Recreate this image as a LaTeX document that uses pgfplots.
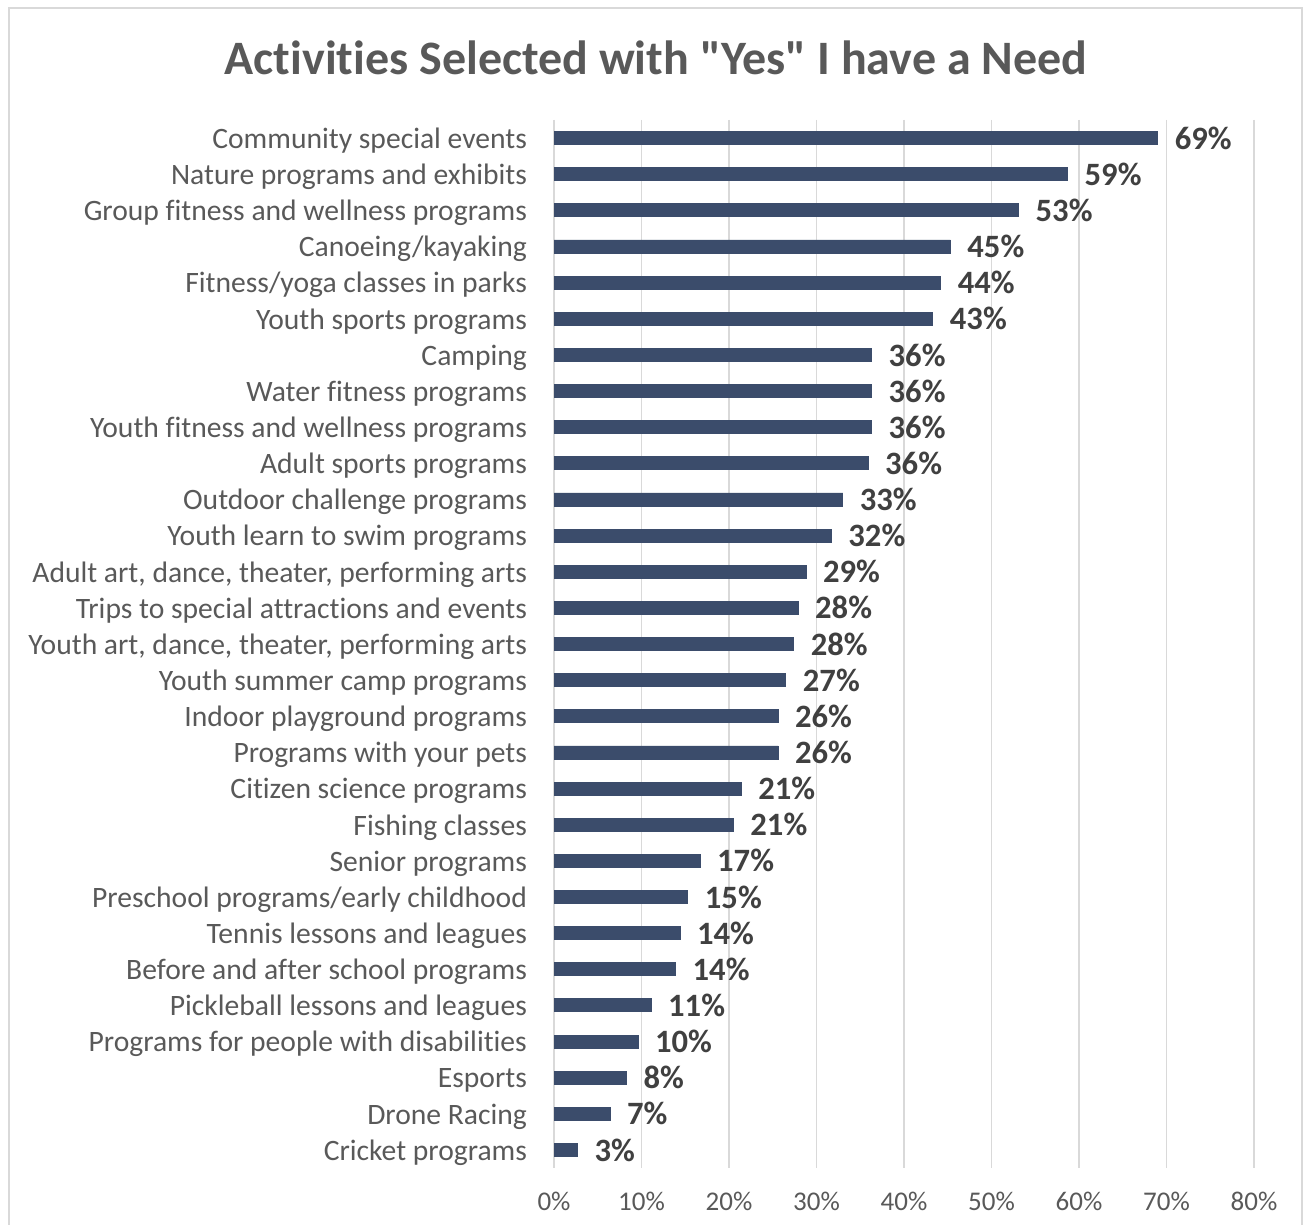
\documentclass[border=0pt]{standalone}
\usepackage{pgfplots}
\pgfplotsset{compat=1.18}
\usepackage{pgfplotstable}
\usepackage{fontspec}
\setmainfont{Carlito}[Ligatures={NoCommon}]
\newfontfamily\titlefont{Carlito}[Ligatures={NoCommon}]
\definecolor{barc}{HTML}{3B4C6B}
\definecolor{txt}{HTML}{595959}
\definecolor{labc}{HTML}{404040}
\definecolor{gridc}{HTML}{D9D9D9}
\definecolor{framec}{HTML}{D9D9D9}
\pgfplotstableread{
i v lab
0 69.0 69
1 58.7 59
2 53.1 53
3 45.3 45
4 44.2 44
5 43.3 43
6 36.3 36
7 36.3 36
8 36.3 36
9 35.9 36
10 33.0 33
11 31.7 32
12 28.8 29
13 27.9 28
14 27.4 28
15 26.5 27
16 25.6 26
17 25.6 26
18 21.4 21
19 20.5 21
20 16.7 17
21 15.3 15
22 14.4 14
23 13.9 14
24 11.1 11
25 9.6 10
26 8.3 8
27 6.4 7
28 2.7 3
}\data
\begin{document}
\begin{tikzpicture}
\useasboundingbox (0,0) rectangle (652pt,612pt);
\draw[framec, line width=1.2pt] (4.5pt,-2pt) -- (4.5pt,608pt) -- (651pt,608pt) -- (651pt,-2pt);
\node[font=\titlefont\fontsize{24}{28}\selectfont\bfseries, text=txt] at (328pt,583pt) {Activities Selected with "Yes" I have a Need};
\begin{axis}[
  at={(277pt,28pt)}, anchor=south west,
  scale only axis, width=350pt, height=524pt,
  xbar, bar width=6.5pt,
  xmin=0, xmax=80, ymin=-0.5, ymax=28.5,
  y dir=reverse,
  axis line style={draw=none},
  xmajorgrids=true, ymajorgrids=false,
  grid style={draw=gridc, line width=0.8pt},
  xtick={0,10,...,80},
  xticklabel={\pgfmathprintnumber{\tick}\%},
  /pgf/number format/assume math mode=true,
  ytick={0,...,28},
  yticklabels={Community special events, Nature programs and exhibits, Group fitness and wellness programs, Canoeing/kayaking, Fitness/yoga classes in parks, Youth sports programs, Camping, Water fitness programs, Youth fitness and wellness programs, Adult sports programs, Outdoor challenge programs, Youth learn to swim programs, {Adult art, dance, theater, performing arts}, Trips to special attractions and events, {Youth art, dance, theater, performing arts}, Youth summer camp programs, Indoor playground programs, Programs with your pets, Citizen science programs, Fishing classes, Senior programs, Preschool programs/early childhood, Tennis lessons and leagues, Before and after school programs, Pickleball lessons and leagues, Programs for people with disabilities, Esports, Drone Racing, Cricket programs},
  major tick length=0pt,
  yticklabel style={font=\fontsize{14.8}{17}\selectfont, text=txt, xshift=-10pt, yshift=-1.3pt},
  xticklabel style={font=\fontsize{13.5}{16}\selectfont, text=txt, yshift=-8.5pt},
  point meta=explicit,
  nodes near coords={\pgfmathprintnumber[fixed,precision=0]{\pgfplotspointmeta}\%},
  nodes near coords style={font=\fontsize{16.3}{19}\selectfont\bfseries, text=labc, anchor=west, xshift=5pt},
  clip=false,
]
\addplot[fill=barc, draw=barc] table[x=v, y=i, meta=lab] {\data};
\end{axis}
\end{tikzpicture}
\end{document}
